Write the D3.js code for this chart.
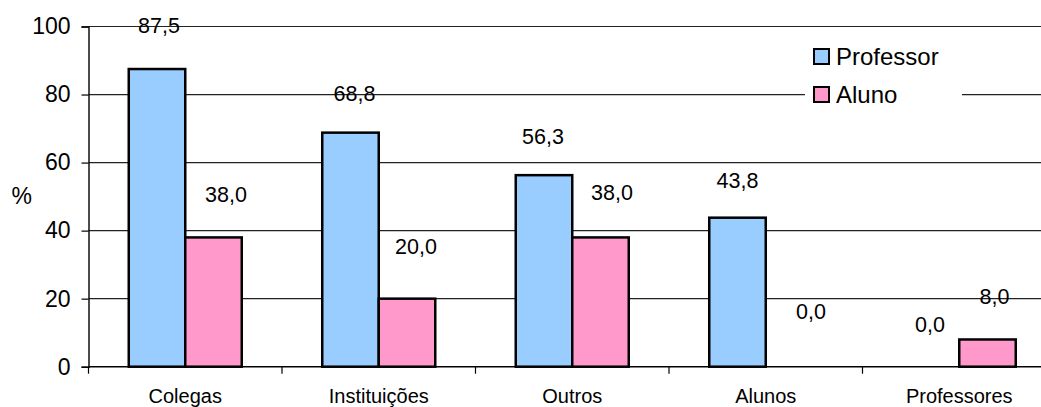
<!DOCTYPE html>
<html>
<head>
<meta charset="utf-8">
<script src="https://cdn.jsdelivr.net/npm/d3@7"></script>
<style>
  html, body { margin: 0; padding: 0; background: #fff; }
  svg { display: block; }
  text { font-family: "Liberation Sans", Arial, sans-serif; fill: #000; }
</style>
</head>
<body>
<svg id="chart" width="1041" height="407"></svg>
<script>
// Origem da informação (%), por tipo de respondente
const categories = ["Colegas", "Instituições", "Outros", "Alunos", "Professores"];
const seriesNames = ["Professor", "Aluno"];
const professorValues = [87.5, 68.8, 56.3, 43.8, 0.0];
const alunoValues = [38.0, 20.0, 38.0, 0.0, 8.0];
const yTicks = [0, 20, 40, 60, 80, 100];

// Hand-placed offsets of the value labels: [dx, dy] from the bar's top centre
const professorLabelNudge = [[2, -36], [4, -32], [-1, -31], [0, -29.5], [-1, -35]];
const alunoLabelNudge = [[12.5, -35.5], [9, -44.5], [11.5, -37.5], [17, -48], [7, -35.5]];

const colors = { Professor: "#99CCFF", Aluno: "#FF99CC" };

const svg = d3.select("#chart");
const W = 1041;

const plotLeft = 88.5, plotTop = 26.5, plotBottom = 366.7;
const step = 193.5;
const plotRight = plotLeft + step * categories.length;

const x = d3.scaleBand()
  .domain(categories)
  .range([plotLeft, plotRight])
  .paddingInner(0.416)
  .paddingOuter(0.208);

const xs = d3.scaleBand().domain(seriesNames).range([0, x.bandwidth()]);

const y = d3.scaleLinear().domain([0, 100]).range([plotBottom, plotTop]);

// Gridlines
svg.append("g")
  .selectAll("line")
  .data(yTicks.filter(t => t > 0))
  .join("line")
  .attr("x1", plotLeft).attr("x2", W)
  .attr("y1", d => y(d)).attr("y2", d => y(d))
  .attr("stroke", "#222").attr("stroke-width", 1.2);

// Bars
const rows = categories.map((c, i) => ({
  cat: c,
  vals: [
    { s: "Professor", v: professorValues[i], nudge: professorLabelNudge[i] },
    { s: "Aluno", v: alunoValues[i], nudge: alunoLabelNudge[i] }
  ]
}));

const groups = svg.append("g").selectAll("g")
  .data(rows).join("g")
  .attr("transform", d => `translate(${x(d.cat)},0)`);

groups.selectAll("rect")
  .data(d => d.vals.filter(e => e.v > 0))
  .join("rect")
  .attr("x", d => xs(d.s))
  .attr("width", xs.bandwidth())
  .attr("y", d => y(d.v))
  .attr("height", d => y(0) - y(d.v))
  .attr("fill", d => colors[d.s])
  .attr("stroke", "#000")
  .attr("stroke-width", 2.5);

// Value labels
const fmt = v => v.toFixed(1).replace(".", ",");
groups.selectAll("text")
  .data(d => d.vals)
  .join("text")
  .attr("x", d => xs(d.s) + xs.bandwidth() / 2 + d.nudge[0])
  .attr("y", d => y(d.v) + d.nudge[1])
  .attr("text-anchor", "middle")
  .attr("font-size", 21.5)
  .text(d => fmt(d.v));

// Y axis
const yAxis = d3.axisLeft(y).tickValues(yTicks).tickSize(7).tickPadding(11).tickFormat(d3.format("d"));
const gy = svg.append("g").attr("transform", `translate(${plotLeft},0)`).call(yAxis);
gy.select(".domain").attr("stroke", "#000").attr("stroke-width", 1.4);
gy.selectAll(".tick line").attr("stroke", "#000").attr("stroke-width", 1.2);
gy.selectAll(".tick text").attr("font-size", 23).attr("font-family", "Liberation Sans, Arial, sans-serif").attr("fill", "#000");

// X axis: ticks on the category boundaries
const boundaries = d3.range(categories.length + 1).map(i => plotLeft + i * step);
svg.append("line")
  .attr("x1", plotLeft).attr("x2", W)
  .attr("y1", plotBottom).attr("y2", plotBottom)
  .attr("stroke", "#000").attr("stroke-width", 1.6);
svg.append("g").selectAll("line")
  .data(boundaries.filter(b => b <= W))
  .join("line")
  .attr("x1", d => d).attr("x2", d => d)
  .attr("y1", plotBottom).attr("y2", plotBottom + 7)
  .attr("stroke", "#000").attr("stroke-width", 1.2);

svg.append("g").selectAll("text")
  .data(categories)
  .join("text")
  .attr("x", d => x(d) + x.bandwidth() / 2)
  .attr("y", 402.5)
  .attr("text-anchor", "middle")
  .attr("font-size", 20)
  .text(d => d);

// Y axis title
svg.append("text")
  .attr("x", 21.7).attr("y", 204)
  .attr("text-anchor", "middle")
  .attr("font-size", 23)
  .text("%");

// Legend
const legend = svg.append("g");
legend.append("rect")
  .attr("x", 805).attr("y", 38).attr("width", 157).attr("height", 76)
  .attr("fill", "#fff");
const items = legend.selectAll("g.item")
  .data(seriesNames)
  .join("g").attr("class", "item")
  .attr("transform", (d, i) => `translate(813,${48 + i * 38})`);
items.append("rect")
  .attr("x", 1).attr("y", 1).attr("width", 15).attr("height", 15)
  .attr("fill", d => colors[d])
  .attr("stroke", "#000").attr("stroke-width", 2);
items.append("text")
  .attr("x", 23).attr("y", 17)
  .attr("font-size", 24)
  .text(d => d);
</script>
</body>
</html>
